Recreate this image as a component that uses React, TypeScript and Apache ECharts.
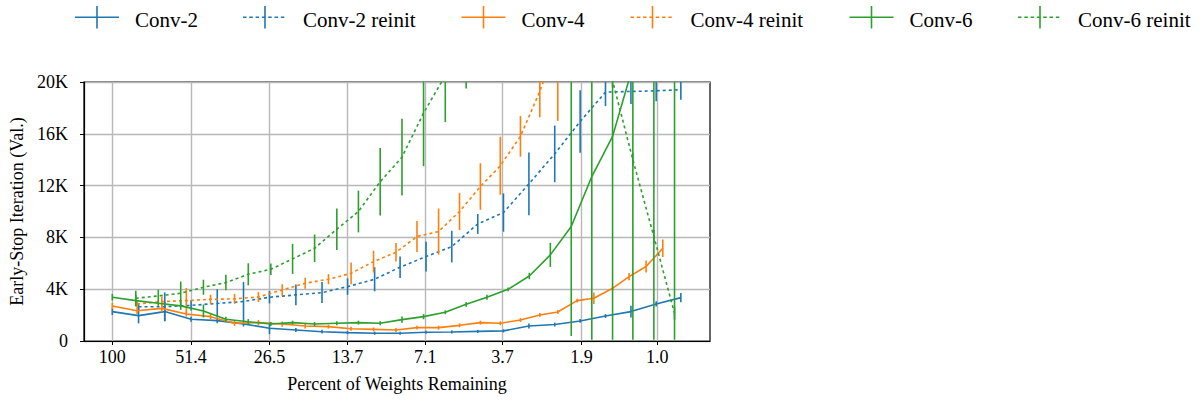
import React, { useEffect, useRef } from 'react';
import * as echarts from 'echarts';

// ---------- data ----------
const xTickValues = [100, 51.4, 26.5, 13.7, 7.1, 3.7, 1.9, 1.0];

// percent of weights remaining at each pruning round
const conv2X = [100, 80.1, 64.2, 51.4, 41.2, 33.0, 26.5, 21.2, 17.0, 13.7, 10.9, 8.79, 7.06, 5.68, 4.56, 3.67, 2.96, 2.38, 1.92, 1.55, 1.25, 1.01, 0.82];
const conv4X = [100, 81.1, 65.8, 53.5, 43.6, 35.6, 29.1, 23.8, 19.6, 16.1, 13.3, 11.0, 9.10, 7.62, 6.35, 5.32, 4.46, 3.77, 3.18, 2.70, 2.32, 1.97, 1.71, 1.46, 1.27, 1.10, 0.955];
const conv6X = [100, 82.0, 67.8, 56.1, 46.3, 38.3, 31.7, 26.2, 21.8, 18.1, 15.0, 12.5, 10.4, 8.65, 7.21, 6.00, 5.03, 4.22, 3.53, 2.95, 2.47, 2.07, 1.74, 1.46, 1.23, 1.03, 0.865];

const conv2 = [2270, 1960, 2270, 1680, 1570, 1320, 980, 850, 720, 650, 600, 600, 680, 700, 740, 780, 1160, 1270, 1550, 1930, 2270, 2860, 3350];
const conv2Err = [260, 600, 750, 200, 200, 200, 450, 150, 150, 120, 120, 120, 120, 120, 120, 120, 190, 150, 150, 150, 450, 200, 350];

const conv2Reinit = [null, 2650, 2650, 2750, 2900, 3050, 3380, 3560, 3740, 4200, 4770, 5700, 6520, 7290, 9040, 9920, 12140, 14450, 16950, 19220, 19270, 19320, 19400];
const conv2ReinitErr = [0, 300, 1100, 400, 1100, 1500, 480, 800, 810, 640, 930, 830, 1150, 1220, 770, 1480, 2420, 2190, 2410, 1080, 970, 800, 770];

const conv4 = [2700, 2340, 2520, 2090, 1880, 1370, 1420, 1310, 1160, 1110, 950, 900, 850, 1030, 1030, 1210, 1420, 1370, 1620, 2010, 2240, 3120, 3300, 4070, 4970, 5750, 7160];
const conv4Err = [250, 250, 300, 200, 200, 200, 200, 200, 200, 150, 150, 150, 150, 150, 150, 150, 150, 150, 150, 150, 150, 150, 450, 180, 280, 460, 680];

const conv4Reinit = [null, 2860, 3040, 3120, 3220, 3250, 3400, 3940, 4460, 4770, 5230, 6130, 6850, 8070, 8450, 10000, 11930, 13530, 15800, 19280, 23000];
const conv4ReinitErr = [0, 300, 400, 970, 350, 380, 390, 450, 430, 390, 840, 840, 710, 1190, 1780, 1440, 1800, 2240, 1570, 2000, 6000];

const conv6 = [3380, 3120, 2910, 2710, 2320, 1680, 1490, 1310, 1420, 1310, 1370, 1420, 1370, 1650, 1880, 2220, 2830, 3380, 3990, 5020, 6650, 8840, 12700, 15800, 21200, 24500, 28000];
const conv6ErrLow = [250, 450, 200, 300, 500, 200, 200, 150, 150, 150, 150, 150, 150, 250, 200, 150, 180, 200, 150, 250, 930, 8450, 12600, 15700, 21100, 24400, 27900];
const conv6ErrHigh = [250, 450, 200, 300, 500, 200, 200, 150, 150, 150, 150, 150, 150, 250, 200, 150, 180, 200, 150, 250, 930, 12000, 12000, 12000, 12000, 12000, 12000];

const conv6Reinit = [null, 3300, 3480, 3690, 4150, 4510, 5150, 5540, 6340, 7160, 8630, 10000, 12300, 14200, 17600, 20500, 22500, 24000, 25000, 26000, 26000, 25500, 24000, 20100, 14000, 8070, 2140];
const conv6ReinitErr = [0, 580, 490, 900, 580, 600, 850, 450, 1160, 1060, 1610, 1610, 2600, 2960, 4100, 3600, 3000, 3000, 3000, 3000, 3000, 3000, 3000, 500, 500, 500, 500];

const BLUE = '#1f77b4';
const ORANGE = '#ff7f0e';
const GREEN = '#2ca02c';
const FONT = 'Liberation Serif';

// legend item left edges (layout)
const legendLeft = [75, 243, 461.5, 630.5, 849.5, 1018];

type Spec = {
  name: string;
  color: string;
  dotted: boolean;
  xs: number[];
  ys: (number | null)[];
  lo: number[];
  hi: number[];
};

const specs: Spec[] = [
  { name: 'Conv-2', color: BLUE, dotted: false, xs: conv2X, ys: conv2, lo: conv2Err, hi: conv2Err },
  { name: 'Conv-2 reinit', color: BLUE, dotted: true, xs: conv2X, ys: conv2Reinit, lo: conv2ReinitErr, hi: conv2ReinitErr },
  { name: 'Conv-4', color: ORANGE, dotted: false, xs: conv4X, ys: conv4, lo: conv4Err, hi: conv4Err },
  { name: 'Conv-4 reinit', color: ORANGE, dotted: true, xs: conv4X, ys: conv4Reinit, lo: conv4ReinitErr, hi: conv4ReinitErr },
  { name: 'Conv-6', color: GREEN, dotted: false, xs: conv6X, ys: conv6, lo: conv6ErrLow, hi: conv6ErrHigh },
  { name: 'Conv-6 reinit', color: GREEN, dotted: true, xs: conv6X, ys: conv6Reinit, lo: conv6ReinitErr, hi: conv6ReinitErr },
];

function buildOption() {
  const series: any[] = [];
  specs.forEach((s, k) => {
    const lineData: number[][] = [];
    const errData: number[][] = [];
    s.ys.forEach((y, i) => {
      if (y === null || y === undefined) return;
      lineData.push([s.xs[i], y]);
      errData.push([s.xs[i], y - s.lo[i], y + s.hi[i]]);
    });
    series.push({
      name: s.name,
      type: 'line',
      data: lineData,
      symbol: 'none',
      showSymbol: false,
      clip: true,
      z: 10 + k * 2,
      lineStyle: { color: s.color, width: 1.6, type: s.dotted ? [3, 3] : 'solid' },
      itemStyle: { color: s.color },
      emphasis: { disabled: true },
    });
    const color = s.color;
    series.push({
      name: s.name + ' err',
      type: 'custom',
      data: errData,
      encode: { x: 0, y: [1, 2] },
      z: 11 + k * 2,
      silent: true,
      renderItem: (params: any, api: any) => {
        const x = api.value(0);
        const p1 = api.coord([x, api.value(1)]);
        const p2 = api.coord([x, api.value(2)]);
        const cs = params.coordSys;
        const top = cs.y;
        const bottom = cs.y + cs.height;
        const y1 = Math.min(Math.max(p1[1], top), bottom);
        const y2 = Math.min(Math.max(p2[1], top), bottom);
        if (Math.abs(y1 - y2) < 0.01) return null;
        return {
          type: 'line',
          shape: { x1: p1[0], y1, x2: p1[0], y2 },
          style: { stroke: color, lineWidth: 1.6 },
        };
      },
    });
  });

  // legend drawn as graphic elements (line + errorbar tick + label)
  const legendGraphics = specs.map((s, k) => ({
    type: 'group',
    x: legendLeft[k],
    y: 0,
    silent: true,
    children: [
      {
        type: 'line',
        shape: { x1: 0, y1: 17.2, x2: 44, y2: 17.2 },
        style: { stroke: s.color, lineWidth: 1.6, lineDash: s.dotted ? [3.5, 2.8] : null },
      },
      {
        type: 'line',
        shape: { x1: 22, y1: 6, x2: 22, y2: 28.5 },
        style: { stroke: s.color, lineWidth: 1.6 },
      },
      {
        type: 'text',
        x: 60,
        y: 19.5,
        style: {
          text: s.name,
          font: '21px "Liberation Serif", serif',
          fontFamily: FONT,
          fontSize: 21,
          fill: '#000',
          verticalAlign: 'middle',
          align: 'left',
        },
      },
    ],
  }));

  return {
    animation: false,
    textStyle: { fontFamily: FONT },
    graphic: legendGraphics,
    grid: {
      left: 84,
      right: 491,
      top: 82,
      bottom: 62,
      show: true,
      borderColor: '#000',
      borderWidth: 1.2,
      backgroundColor: 'transparent',
    },
    xAxis: {
      type: 'log',
      logBase: 10,
      inverse: true,
      min: 0.641,
      max: 127,
      name: 'Percent of Weights Remaining',
      nameLocation: 'middle',
      nameGap: 34,
      nameTextStyle: { fontFamily: FONT, fontSize: 18, color: '#000' },
      axisLine: { show: true, onZero: false, lineStyle: { color: '#000', width: 1.2 } },
      axisTick: { show: true, length: 4, lineStyle: { color: '#000' }, customValues: xTickValues },
      axisLabel: {
        show: true,
        customValues: xTickValues,
        fontFamily: FONT,
        fontSize: 18,
        color: '#000',
        margin: 7,
        formatter: (v: number) => (v >= 99 ? '100' : v.toFixed(1)),
      },
      splitLine: { show: true, lineStyle: { color: '#b8b8b8', width: 1.4 } },
      minorTick: { show: false },
      minorSplitLine: { show: false },
    },
    yAxis: {
      type: 'value',
      min: 0,
      max: 20000,
      interval: 4000,
      name: 'Early-Stop Iteration (Val.)',
      nameLocation: 'middle',
      nameGap: 57,
      nameTextStyle: { fontFamily: FONT, fontSize: 18, color: '#000' },
      axisLine: { show: true, lineStyle: { color: '#000', width: 1.2 } },
      axisTick: { show: true, length: 4, lineStyle: { color: '#000' } },
      axisLabel: {
        fontFamily: FONT,
        fontSize: 18,
        color: '#000',
        margin: 16,
        formatter: (v: number) => (v === 0 ? '0' : v / 1000 + 'K'),
      },
      splitLine: { show: true, lineStyle: { color: '#b8b8b8', width: 1.4 } },
    },
    series,
  };
}

export default function App() {
  const ref = useRef<HTMLDivElement>(null);
  useEffect(() => {
    if (!ref.current) return;
    const chart = echarts.init(ref.current, undefined, { renderer: 'svg' });
    chart.setOption(buildOption() as any);
    return () => chart.dispose();
  }, []);
  return (
    <div
      ref={ref}
      style={{ position: 'fixed', left: 0, top: 0, width: 1201, height: 403, background: '#fff' }}
    />
  );
}
